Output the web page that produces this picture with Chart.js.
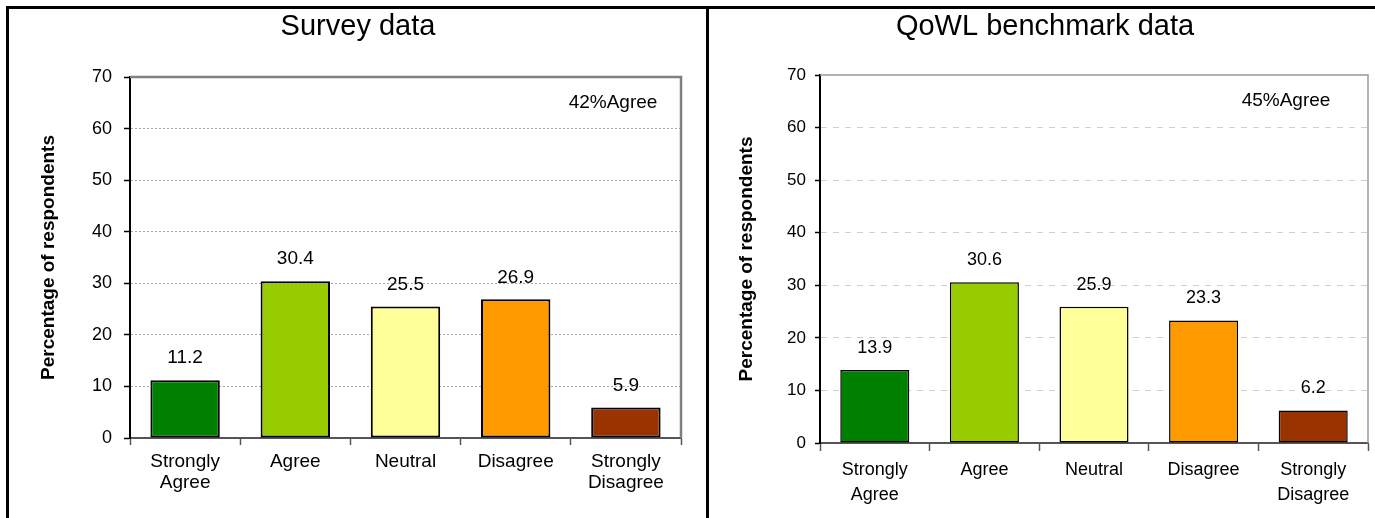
<!DOCTYPE html>
<html>
<head>
<meta charset="utf-8">
<script src="https://cdn.jsdelivr.net/npm/chart.js"></script>
<style>
  body { margin: 0; background: #fff; width: 1375px; height: 518px; overflow: hidden; position: relative; }
  .frame { position: absolute; left: 6px; top: 6px; width: 1375px; height: 520px; border-top: 3px solid #000; border-left: 3px solid #000; }
  .divider { position: absolute; left: 706px; top: 6px; width: 3px; height: 520px; background: #000; }
  .panel { position: absolute; top: 9px; }
</style>
</head>
<body>
<div class="frame"></div>
<div class="divider"></div>
<div class="panel" style="left:9px"><canvas id="survey" width="697" height="509"></canvas></div>
<div class="panel" style="left:709px"><canvas id="qowl" width="666" height="509"></canvas></div>
<script>
const categories = [['Strongly', 'Agree'], 'Agree', 'Neutral', 'Disagree', ['Strongly', 'Disagree']];
const surveyValues = [11.2, 30.4, 25.5, 26.9, 5.9];
const benchmarkValues = [13.9, 30.6, 25.9, 23.3, 6.2];
const barColors = ['#008000', '#99CC00', '#FFFF99', '#FF9900', '#993300'];
const yTicks = { min: 0, max: 70, step: 10 };
const surveyNote = '42%Agree';
const benchmarkNote = '45%Agree';

const FONT = "'Liberation Sans', Arial, sans-serif";

// draws the title, the frame, value labels and the agree note
const extrasPlugin = {
  id: 'extras',
  beforeDatasetsDraw(chart, args, opts) {
    const a = chart.chartArea;
    const ctx = chart.ctx;
    ctx.save();
    ctx.strokeStyle = opts.frameColor;
    ctx.lineWidth = opts.frameWidth;
    ctx.beginPath();
    ctx.moveTo(a.left, a.top);
    ctx.lineTo(a.right, a.top);
    ctx.lineTo(a.right, a.bottom);
    ctx.stroke();
    ctx.restore();
  },
  afterDatasetsDraw(chart, args, opts) {
    const a = chart.chartArea;
    const ctx = chart.ctx;
    ctx.save();
    ctx.fillStyle = '#000';
    ctx.textAlign = 'center';
    ctx.textBaseline = 'middle';
    ctx.font = '29px ' + FONT;
    ctx.fillText(opts.title, opts.titleX, 18);

    ctx.font = opts.valueFont + 'px ' + FONT;
    const meta = chart.getDatasetMeta(0);
    meta.data.forEach((bar, i) => {
      ctx.fillText(chart.data.datasets[0].data[i].toFixed(1), bar.x, bar.y - 22);
    });

    ctx.font = '19px ' + FONT;
    ctx.fillText(opts.note, a.right - opts.noteRight, a.top + 26);
    ctx.restore();
  }
};

function makeChart(id, values, cfg) {
  return new Chart(document.getElementById(id), {
    type: 'bar',
    data: {
      labels: categories,
      datasets: [{
        data: values,
        backgroundColor: barColors,
        borderColor: '#000',
        borderWidth: cfg.barBorder,
        borderSkipped: false,
        categoryPercentage: 1,
        barPercentage: 0.63
      }]
    },
    options: {
      responsive: false,
      devicePixelRatio: 1,
      animation: false,
      layout: { padding: { left: cfg.padLeft, top: cfg.padTop, right: cfg.padRight, bottom: 0 } },
      plugins: {
        legend: { display: false },
        tooltip: { enabled: false },
        extras: {
          title: cfg.title, titleX: cfg.titleX, note: cfg.note, noteRight: cfg.noteRight,
          valueFont: cfg.valueFont, frameColor: cfg.frameColor, frameWidth: cfg.frameWidth
        }
      },
      scales: {
        x: {
          afterFit: s => { s.height = cfg.xHeight; },
          grid: { display: true, drawOnChartArea: false, offset: true, tickLength: cfg.xTickLen, tickColor: '#555', tickWidth: 1.5 },
          border: { color: '#555', width: 2 },
          ticks: { color: '#000', padding: 6, maxRotation: 0, font: { family: FONT, size: cfg.xFont, lineHeight: cfg.xLine } }
        },
        y: {
          min: yTicks.min,
          max: yTicks.max,
          afterFit: s => { s.width = cfg.yWidth; },
          ticks: { stepSize: yTicks.step, color: '#000', padding: cfg.yPad, font: { family: FONT, size: cfg.yFont } },
          grid: {
            color: c => (c.tick && (c.tick.value === yTicks.min || c.tick.value === yTicks.max)) ? 'rgba(0,0,0,0)' : cfg.gridColor,
            tickColor: '#000',
            tickLength: cfg.yTickLen,
            tickWidth: 1.5,
            tickBorderDash: []
          },
          border: { color: '#000', width: 2, dash: cfg.gridDash },
          title: {
            display: true,
            text: 'Percentage of respondents',
            color: '#000',
            font: { family: FONT, size: 19, weight: 'bold', lineHeight: 1.2 },
            padding: { top: 4, bottom: 4 }
          }
        }
      }
    },
    plugins: [extrasPlugin]
  });
}

makeChart('survey', surveyValues, {
  title: 'Survey data', titleX: 349, note: surveyNote, noteRight: 68,
  padLeft: 24, padTop: 68, padRight: 25, yWidth: 97, xHeight: 80,
  xTickLen: 7, xFont: 19, xLine: 1.12, yFont: 18, yPad: 12, yTickLen: 6,
  valueFont: 19, barBorder: 2, gridColor: '#a8a8a8', gridDash: [2, 2],
  frameColor: '#808080', frameWidth: 2.5
});

makeChart('qowl', benchmarkValues, {
  title: 'QoWL benchmark data', titleX: 336, note: benchmarkNote, noteRight: 82,
  padLeft: 22, padTop: 66, padRight: 7, yWidth: 89, xHeight: 75,
  xTickLen: 8, xFont: 18, xLine: 1.4, yFont: 17, yPad: 9, yTickLen: 5,
  valueFont: 18, barBorder: 1.5, gridColor: '#cfcfcf', gridDash: [6, 6],
  frameColor: '#999', frameWidth: 1.5
});
</script>
</body>
</html>
